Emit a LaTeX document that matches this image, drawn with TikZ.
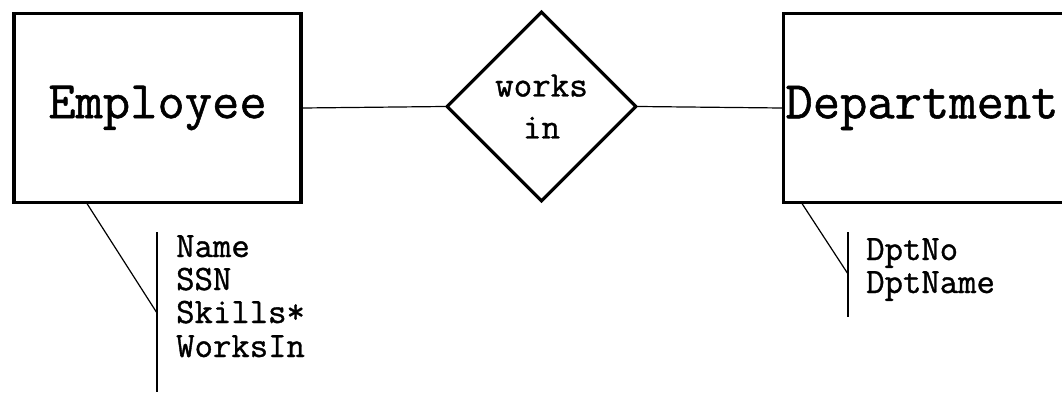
\documentclass[tikz,border=0pt]{standalone}
\usepackage{fontspec}
\newfontfamily\ertt{Latin Modern Mono}[FakeBold=1.0]
\usetikzlibrary{shapes.geometric}
\begin{document}
\begin{tikzpicture}[x=1pt,y=1pt,
  entity/.style={draw,line width=3.5pt,inner sep=0pt,minimum width=287pt,minimum height=189pt,
    font=\fontsize{53}{60}\selectfont\ertt},
  relation/.style={draw,diamond,aspect=1,line width=3.2pt,inner sep=0pt,minimum width=190pt,minimum height=190pt,
    align=center,font=\fontsize{36}{42}\selectfont\ertt},
  attr/.style={anchor=base west,inner sep=0pt,font=\fontsize{35.7}{40}\selectfont\ertt},
  thin/.style={line width=1.2pt}]
\useasboundingbox (0,0) rectangle (1062,-393);
\begin{scope}
\clip (0,0) rectangle (1062,-393);
\node[entity] (emp) at (157.5,-108) {Employee};
\node[relation] (rel) at (541.5,-106.5) {works\\in};
\node[entity,text width=283pt,align=left] (dept) at (927,-108) {Department};
\draw[thin] (emp.east) -- (rel.west);
\draw[thin] (rel.east) -- (dept.west);
% Employee attributes
\coordinate (eb1) at (157,-232);
\coordinate (eb2) at (157,-392);
\coordinate (ej) at (157,-313);
\coordinate (es) at (86,-202);
\draw[thin] (eb1) -- (eb2);
\draw[thin] (es) -- (ej);
\node[attr] (a1) at (176,-257) {Name};
\node[attr] (a2) at (176,-290) {SSN};
\node[attr] (a3) at (176,-323) {Skills*};
\node[attr] (a4) at (176,-357) {WorksIn};
% Department attributes
\coordinate (db1) at (848,-232);
\coordinate (db2) at (848,-317);
\coordinate (dj) at (848,-274);
\coordinate (ds) at (801,-202);
\draw[thin] (db1) -- (db2);
\draw[thin] (ds) -- (dj);
\node[attr] (d1) at (866,-260) {DptNo};
\node[attr] (d2) at (866,-293) {DptName};
\end{scope}
\end{tikzpicture}
\end{document}
